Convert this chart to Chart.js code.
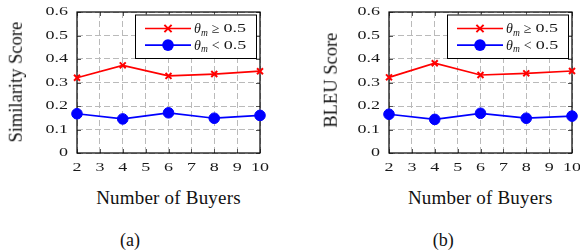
<!DOCTYPE html>
<html>
<head>
<meta charset="utf-8">
<script src="https://cdn.jsdelivr.net/npm/chart.js@4/dist/chart.umd.min.js"></script>
<style>
  html, body { margin: 0; padding: 0; background: #fff; overflow: hidden; width: 580px; height: 251px; }
  .panel { position: absolute; top: 0; width: 300px; height: 251px; }
  .panel canvas { position: absolute; left: 0; top: 0; }
  .xtitle, .ytitle, .caption {
    position: absolute; font-family: "Liberation Serif", serif; color: #111;
    white-space: nowrap; text-align: center; line-height: 1;
  }
  .xtitle { font-size: 19px; width: 200px; top: 187.5px; letter-spacing: 0.2px; }
  .ytitle { font-size: 18.5px; width: 200px; height: 18.5px; transform: rotate(-90deg); }
  .caption { font-size: 18px; width: 60px; top: 231px; }
</style>
</head>
<body>
<div class="panel" id="pa" style="left:0px">
  <canvas id="chartA" width="290" height="180"></canvas>
  <div class="ytitle" style="left:-84px; top:73px">Similarity Score</div>
  <div class="xtitle" style="left:68.5px">Number of Buyers</div>
  <div class="caption" style="left:100px">(a)</div>
</div>
<div class="panel" id="pb" style="left:311.7px">
  <canvas id="chartB" width="290" height="180"></canvas>
  <div class="ytitle" style="left:-81px; top:71px">BLEU Score</div>
  <div class="xtitle" style="left:68.5px">Number of Buyers</div>
  <div class="caption" style="left:101.5px">(b)</div>
</div>
<script>
// values
const buyers = [2, 4, 6, 8, 10];
const simHigh = [0.320, 0.373, 0.328, 0.336, 0.348];
const simLow = [0.167, 0.145, 0.171, 0.148, 0.160];
const bleuHigh = [0.322, 0.382, 0.332, 0.339, 0.349];
const bleuLow = [0.165, 0.143, 0.169, 0.148, 0.157];

const xTicks = [2, 3, 4, 5, 6, 7, 8, 9, 10];
const yTicks = [0, 0.1, 0.2, 0.3, 0.4, 0.5, 0.6];
const yTickLabels = ['0', '0.1', '0.2', '0.3', '0.4', '0.5', '0.6'];
const legendLabels = [['\u2265', '0.5'], ['<', '0.5']];

const RED = '#ff0000';
const BLUE = '#0000ff';
const NUM_FONT = '12px "Liberation Serif"';
const STRETCH = 1.5; // the pgfplots digits are much wider than Times

function wideText(ctx, text, x, y, align) {
    ctx.save();
    ctx.translate(x, y);
    ctx.scale(STRETCH, 1);
    ctx.font = NUM_FONT;
    ctx.textAlign = align;
    ctx.textBaseline = 'middle';
    ctx.fillText(text, 0, 0);
    const w = ctx.measureText(text).width * STRETCH;
    ctx.restore();
    return w;
}

// tick labels, placed with the chart's own scales
const tickLabels = {
    id: 'tickLabels',
    afterDraw(chart) {
        const { ctx, chartArea: a, scales } = chart;
        ctx.save();
        ctx.fillStyle = '#1a1a1a';
        xTicks.forEach(v => wideText(ctx, String(v), scales.x.getPixelForValue(v), a.bottom + 14.5, 'center'));
        yTicks.forEach((v, i) => wideText(ctx, yTickLabels[i], a.left - 9, scales.y.getPixelForValue(v), 'right'));
        ctx.restore();
    }
};

// box around the plot and inward tick marks on all four sides
const frame = {
    id: 'frame',
    beforeDatasetsDraw(chart) {
        const { ctx, chartArea: a, scales } = chart;
        ctx.save();
        ctx.strokeStyle = '#555';
        ctx.lineWidth = 1;
        ctx.beginPath();
        xTicks.forEach(v => {
            const x = Math.round(scales.x.getPixelForValue(v)) + 0.5;
            ctx.moveTo(x, a.bottom); ctx.lineTo(x, a.bottom - 4);
            ctx.moveTo(x, a.top); ctx.lineTo(x, a.top + 4);
        });
        yTicks.forEach(v => {
            const y = Math.round(scales.y.getPixelForValue(v)) + 0.5;
            ctx.moveTo(a.left, y); ctx.lineTo(a.left + 4, y);
            ctx.moveTo(a.right, y); ctx.lineTo(a.right - 4, y);
        });
        ctx.stroke();
        ctx.strokeStyle = '#000';
        ctx.lineWidth = 1.2;
        ctx.strokeRect(a.left, a.top, a.right - a.left, a.bottom - a.top);
        ctx.restore();
    }
};

function drawMarker(ctx, style, x, y, color) {
    ctx.save();
    ctx.strokeStyle = color;
    ctx.fillStyle = color;
    if (style === 'crossRot') {
        const r = 3.6;
        ctx.lineWidth = 2;
        ctx.beginPath();
        ctx.moveTo(x - r, y - r); ctx.lineTo(x + r, y + r);
        ctx.moveTo(x - r, y + r); ctx.lineTo(x + r, y - r);
        ctx.stroke();
    } else {
        ctx.beginPath();
        ctx.arc(x, y, 5.8, 0, Math.PI * 2);
        ctx.fill();
    }
    ctx.restore();
}

const mathLegend = {
    id: 'mathLegend',
    afterDraw(chart) {
        const { ctx, chartArea: a } = chart;
        const w = 121, h = 43.5;
        const bx = a.right - 4 - w, by = a.top + 2.5;
        ctx.save();
        ctx.fillStyle = '#fff';
        ctx.fillRect(bx, by, w, h);
        ctx.strokeStyle = '#000';
        ctx.lineWidth = 1;
        ctx.strokeRect(bx + 0.5, by + 0.5, w, h);
        chart.data.datasets.forEach((ds, i) => {
            const cy = by + 14 + i * 16.6;
            ctx.strokeStyle = ds.borderColor;
            ctx.lineWidth = 1.7;
            ctx.beginPath();
            ctx.moveTo(bx + 10, cy); ctx.lineTo(bx + 56, cy);
            ctx.stroke();
            drawMarker(ctx, ds.pointStyle, bx + 33, cy, ds.borderColor);
            let tx = bx + 59;
            ctx.fillStyle = '#1a1a1a';
            ctx.textBaseline = 'alphabetic';
            ctx.textAlign = 'left';
            ctx.font = 'italic 14px "Liberation Serif"';
            ctx.fillText('\u03b8', tx, cy + 4.5);
            tx += ctx.measureText('\u03b8').width;
            ctx.font = 'italic 9.5px "Liberation Serif"';
            ctx.fillText('m', tx, cy + 7);
            tx += ctx.measureText('m').width + 4;
            ctx.font = '14px "Liberation Serif"';
            ctx.fillText(legendLabels[i][0], tx, cy + 4.5);
            tx += ctx.measureText(legendLabels[i][0]).width + 4;
            wideText(ctx, legendLabels[i][1], tx, cy + 0.5, 'left');
        });
        ctx.restore();
    }
};

function makeChart(id, high, low) {
    const toPts = vals => buyers.map((b, i) => ({ x: b, y: vals[i] }));
    return new Chart(document.getElementById(id), {
        type: 'line',
        data: {
            datasets: [{
                label: 'high',
                data: toPts(high),
                borderColor: RED,
                backgroundColor: RED,
                borderWidth: 1.7,
                pointStyle: 'crossRot',
                pointRadius: 4.2,
                pointBorderWidth: 2,
                clip: false,
                tension: 0
            }, {
                label: 'low',
                data: toPts(low),
                borderColor: BLUE,
                backgroundColor: BLUE,
                borderWidth: 1.7,
                pointStyle: 'circle',
                pointRadius: 5.3,
                pointBorderWidth: 1,
                clip: false,
                tension: 0
            }]
        },
        options: {
            responsive: false,
            animation: false,
            devicePixelRatio: 1,
            layout: { padding: { left: 0, top: 12, right: 30, bottom: 0 } },
            plugins: { legend: { display: false }, tooltip: { enabled: false } },
            scales: {
                x: {
                    type: 'linear',
                    min: 2, max: 10,
                    afterBuildTicks: s => { s.ticks = xTicks.map(v => ({ value: v })); },
                    afterFit: s => { s.height = 27; },
                    grid: { color: '#bababa', lineWidth: 1, drawTicks: false },
                    border: { display: false, dash: [6, 3] },
                    ticks: { display: false }
                },
                y: {
                    min: 0, max: 0.6,
                    afterBuildTicks: s => { s.ticks = yTicks.map(v => ({ value: v })); },
                    afterFit: s => { s.width = 77; },
                    grid: { color: '#bababa', lineWidth: 1, drawTicks: false },
                    border: { display: false, dash: [6, 3] },
                    ticks: { display: false }
                }
            }
        },
        plugins: [frame, tickLabels, mathLegend]
    });
}

makeChart('chartA', simHigh, simLow);
makeChart('chartB', bleuHigh, bleuLow);
</script>
</body>
</html>
